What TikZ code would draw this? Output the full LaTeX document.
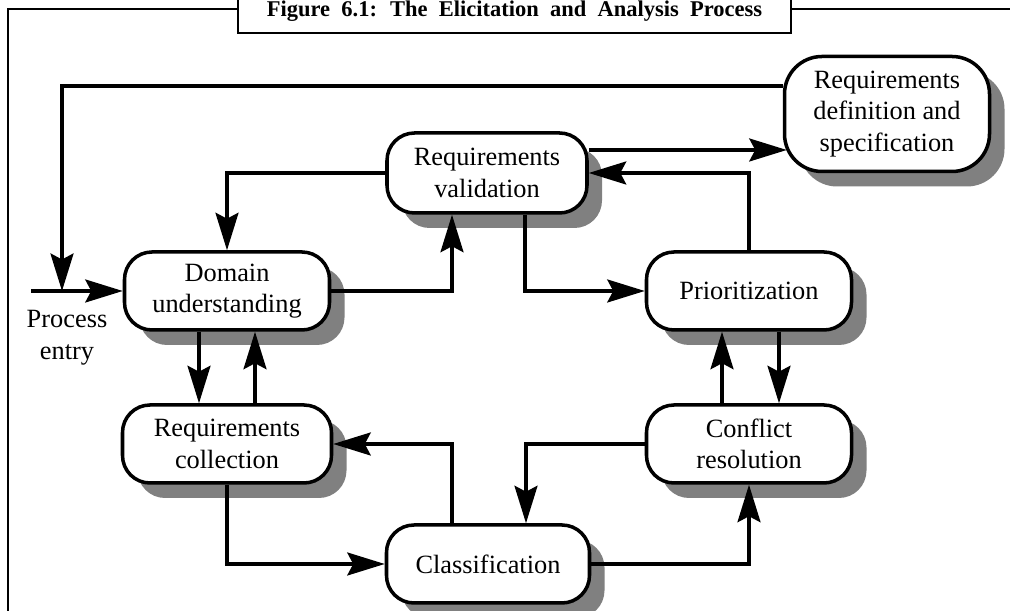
\documentclass[tikz,border=0pt]{standalone}
\usepackage{fontspec}
\setmainfont{Liberation Serif}
\usetikzlibrary{shadows,arrows.meta}

\begin{document}
\begin{tikzpicture}[
    box/.style={draw, line width=2pt, rounded corners=0.55cm, fill=white,
      minimum width=4.1cm, minimum height=1.56cm, inner sep=0pt, align=center,
      font=\fontsize{15}{18}\selectfont,
      drop shadow={shadow xshift=0.3cm, shadow yshift=-0.3cm, fill=gray, opacity=1}},
    arr/.style={line width=1.8pt, -{Stealth[length=0.75cm, width=0.46cm, inset=0.12cm]}}
  ]
      \useasboundingbox (0,0) rectangle (20.2,12.22);
      \draw[line width=1.2pt] (0.16,0) -- (0.16,12.04) -- (20.2,12.04);
      \node[draw, line width=1.2pt, fill=white, minimum width=11.06cm, minimum height=1.1cm] (title) at (10.29,12.11) {};
      \node[font=\bfseries\fontsize{12.8}{15}\selectfont] (titletext) at (10.29,12.0)
        {\spaceskip=0.5em\relax Figure 6.1: The Elicitation and Analysis Process};
      \draw
        (4.54,6.40) node[box] (dom) {Domain\\understanding}
        (9.74,8.76) node[box, minimum width=4.0cm, minimum height=1.6cm] (val) {Requirements\\validation}
        (17.74,9.94) node[box, minimum height=2.3cm, rounded corners=0.75cm] (spec) {Requirements\\definition and\\specification}
        (14.98,6.40) node[box] (prio) {Prioritization}
        (4.54,3.34) node[box, minimum width=4.18cm] (coll) {Requirements\\collection}
        (14.98,3.34) node[box] (conf) {Conflict\\resolution}
        (9.76,0.94) node[box, minimum width=4.06cm] (cls) {Classification};
      \node[font=\fontsize{15}{18}\selectfont, align=center] (entrytext) at (1.34,5.46) {Process\\entry};
      \coordinate (entry) at (0.62,6.40);
      \coordinate (join) at (1.24,6.40);
      \begin{scope}[arr]
        \draw (entry) -- (dom);
        \draw ([yshift=0.56cm]spec.west) -| (join);
        \draw (val.west) -| (dom.north);
        \draw (dom.east) -| ([xshift=-0.7cm]val.south);
        \draw ([yshift=0.46cm]val.east) -- ([xshift=0.08cm, yshift=-0.72cm]spec.west);
        \draw (prio.north) |- (val.east);
        \draw ([xshift=0.76cm]val.south) |- (prio.west);
        \draw ([xshift=-0.56cm]dom.south) -- ([xshift=-0.56cm]coll.north);
        \draw ([xshift=0.56cm]coll.north) -- ([xshift=0.56cm]dom.south);
        \draw ([xshift=0.6cm]prio.south) -- ([xshift=0.6cm]conf.north);
        \draw ([xshift=-0.54cm]conf.north) -- ([xshift=-0.54cm]prio.south);
        \draw (conf.west) -| ([xshift=0.76cm]cls.north);
        \draw (cls.east) -| (conf.south);
        \draw ([xshift=-0.72cm]cls.north) |- (coll.east);
        \draw (coll.south) |- (cls.west);
      \end{scope}
    \end{tikzpicture}
\end{document}
